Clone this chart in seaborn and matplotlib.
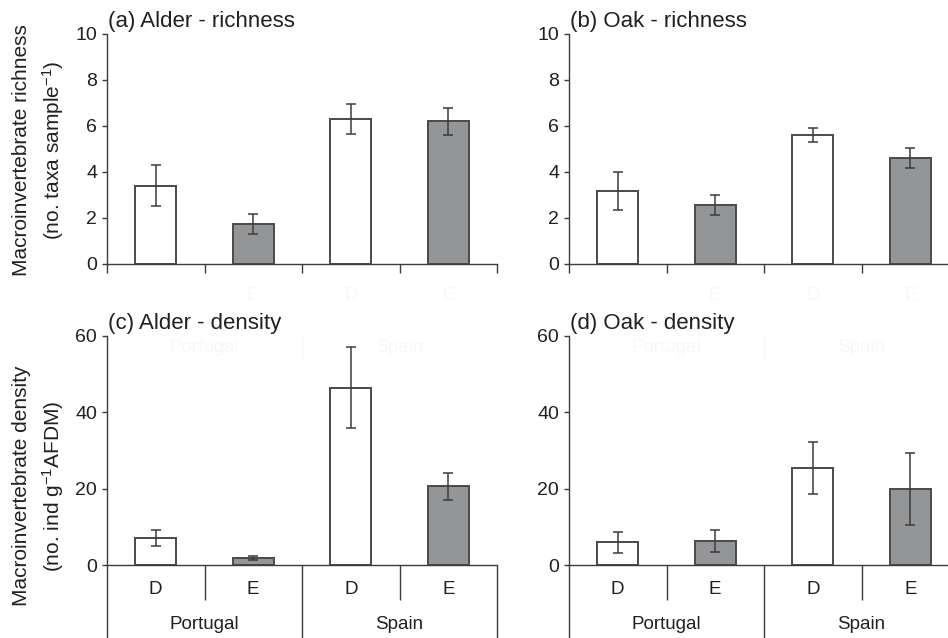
import matplotlib
matplotlib.use("Agg")
import matplotlib.pyplot as plt
import seaborn as sns
import pandas as pd

# categories
countries = ["Portugal", "Portugal", "Spain", "Spain"]
treatments = ["D", "E", "D", "E"]
groups = ["Portugal", "Spain"]

# means and standard errors
alder_rich = [3.4, 1.75, 6.3, 6.2]
alder_rich_se = [0.9, 0.43, 0.66, 0.6]
oak_rich = [3.18, 2.56, 5.61, 4.62]
oak_rich_se = [0.84, 0.45, 0.29, 0.43]
alder_dens = [7.1, 1.8, 46.5, 20.6]
alder_dens_se = [2.0, 0.5, 10.7, 3.6]
oak_dens = [5.9, 6.3, 25.5, 19.9]
oak_dens_se = [2.8, 2.9, 6.8, 9.5]

sns.set_style("ticks")
plt.rcParams['font.family'] = ['Liberation Sans', 'DejaVu Sans']
plt.rcParams['mathtext.fontset'] = 'custom'
plt.rcParams['mathtext.rm'] = 'Liberation Sans'
plt.rcParams['mathtext.it'] = 'Liberation Sans:italic'

TXT = '#231f20'
LINE = '#3c3c3c'
FAINT = '#f8f8f8'
palette = {"D": "white", "E": "#939598"}

W, H = 948, 638
fig = plt.figure(figsize=(W / 100, H / 100), dpi=100)


def px_axes(left, right, top, bottom):
    return fig.add_axes([left / W, 1 - bottom / H, (right - left) / W, (bottom - top) / H])


def draw_panel(ax, means, se, ymax, step, title, full_axis):
    df = pd.DataFrame({
        'pos': [f"{c} {t}" for c, t in zip(countries, treatments)],
        'trt': treatments,
        'mean': means,
    })
    sns.barplot(data=df, x='pos', y='mean', hue='trt', palette=palette, dodge=False,
                width=0.42, errorbar=None, edgecolor='#4a4a4a', linewidth=1.4,
                legend=False, ax=ax)
    ax.errorbar(range(len(means)), means, yerr=se, fmt='none', ecolor=LINE,
                elinewidth=1.1, capsize=3.3, capthick=1.1, zorder=5)
    ax.set_xlim(-0.5, 3.5)
    ax.set_ylim(0, ymax)
    ax.set_yticks(range(0, ymax + 1, step))
    ax.set_facecolor('none')
    sns.despine(ax=ax)
    for s in ['left', 'bottom']:
        ax.spines[s].set_color(LINE)
        ax.spines[s].set_linewidth(1.0)
    ax.set_xlabel('')
    ax.set_ylabel('')
    ax.tick_params(axis='y', length=3.6, width=1.0, color=LINE, pad=3.5,
                   labelsize=14, labelcolor=TXT)
    ax.text(0.003, 1.03, title, transform=ax.transAxes, ha='left', va='baseline',
            fontsize=16, color=TXT)
    xt = ax.get_xaxis_transform()
    if full_axis:
        ax.set_xticks([0.5, 2.5])
        ax.set_xticklabels([])
        ax.tick_params(axis='x', length=25, width=1.0, color=LINE)
        for x in [-0.5, 1.5, 3.5]:
            ax.plot([x, x], [0, -0.36], transform=xt, color=LINE, lw=1.0,
                    clip_on=False, solid_capstyle='butt')
        for i, t in enumerate(treatments):
            ax.text(i, -0.105, t, transform=xt, ha='center', va='center',
                    fontsize=13.5, color=TXT)
        for i, g in enumerate(groups):
            ax.text(0.5 + 2 * i, -0.262, g, transform=xt, ha='center', va='center',
                    fontsize=13.5, color=TXT)
    else:
        ax.set_xticks([-0.5, 0.5, 1.5, 2.5, 3.5])
        ax.set_xticklabels([])
        ax.tick_params(axis='x', length=6.5, width=1.0, color=LINE)
        # faint remnants of the hidden category axis
        for i, t in enumerate(treatments):
            if i == 0:
                continue
            ax.text(i, -0.135, t, transform=xt, ha='center', va='center',
                    fontsize=13.5, color=FAINT)
        for i, g in enumerate(groups):
            ax.text(0.5 + 2 * i, -0.365, g, transform=xt, ha='center', va='center',
                    fontsize=13.5, color=FAINT)
        ax.plot([1.5, 1.5], [-0.31, -0.42], transform=xt, color=FAINT, lw=1.0,
                clip_on=False)


ax_a = px_axes(107, 497, 34, 264)
ax_b = px_axes(569, 959, 34, 264)
ax_c = px_axes(107, 497, 336, 565)
ax_d = px_axes(569, 959, 336, 565)

draw_panel(ax_a, alder_rich, alder_rich_se, 10, 2, '(a) Alder - richness', False)
draw_panel(ax_b, oak_rich, oak_rich_se, 10, 2, '(b) Oak - richness', False)
draw_panel(ax_c, alder_dens, alder_dens_se, 60, 20, '(c) Alder - density', True)
draw_panel(ax_d, oak_dens, oak_dens_se, 60, 20, '(d) Oak - density', True)

fig.text(39 / W, 1 - 150 / H, 'Macroinvertebrate richness\n(no. taxa sample$^{-1}$)',
         rotation=90, ha='center', va='center', multialignment='center',
         fontsize=15, color=TXT, linespacing=1.45)
fig.text(39 / W, 1 - 486 / H, 'Macroinvertebrate density\n(no. ind g$^{-1}$AFDM)',
         rotation=90, ha='center', va='center', multialignment='center',
         fontsize=15, color=TXT, linespacing=1.45)

fig.savefig('out.png', dpi=100)
